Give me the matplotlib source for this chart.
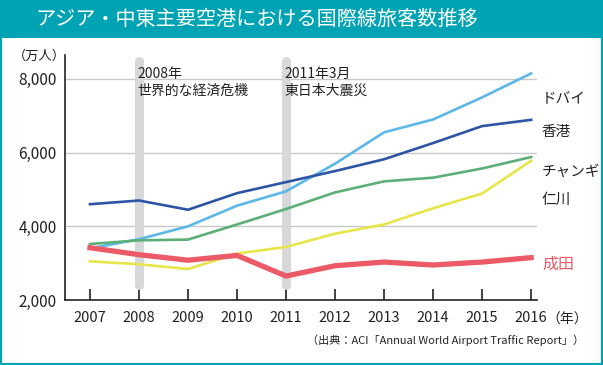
import matplotlib
matplotlib.use("Agg")
import matplotlib.pyplot as plt
from matplotlib.patches import Rectangle

plt.rcParams['font.family'] = ['Noto Sans CJK JP', 'DejaVu Sans']

years = [2007, 2008, 2009, 2010, 2011, 2012, 2013, 2014, 2015, 2016]
dubai = [3400, 3650, 4000, 4560, 4950, 5700, 6550, 6900, 7500, 8150]
hongkong = [4600, 4700, 4450, 4900, 5200, 5500, 5820, 6260, 6720, 6890]
changi = [3520, 3620, 3640, 4050, 4470, 4920, 5220, 5320, 5570, 5880]
incheon = [3050, 2970, 2840, 3260, 3440, 3800, 4050, 4490, 4890, 5780]
narita = [3420, 3230, 3080, 3210, 2650, 2930, 3030, 2950, 3030, 3150]

series_names = ['ドバイ', '香港', 'チャンギ', '仁川', '成田']
event_years = [2008, 2011]
event_labels = ['2008年\n世界的な経済危機', '2011年3月\n東日本大震災']
yticks = [2000, 4000, 6000, 8000]

teal = '#00A3B4'
colors = ['#5BB8E8', '#2E55A5', '#5DAF78', '#E6E64A', '#EB5A66']
widths = [1.9, 1.9, 1.9, 1.9, 3.8]
label_y = [7450, 6560, 5480, 4720, 2970]

fig = plt.figure(figsize=(6.03, 3.65), dpi=100)
# frame and title bar
fig.patches.append(Rectangle((0, 0), 1, 1, transform=fig.transFigure,
                             facecolor='white', edgecolor=teal, linewidth=3, zorder=-10))
fig.patches.append(Rectangle((0, 1 - 38 / 365), 1, 38 / 365, transform=fig.transFigure,
                             facecolor=teal, edgecolor='none', zorder=-9))
fig.text(257 / 603, 1 - 19 / 365, 'アジア・中東主要空港における国際線旅客数推移',
         color='white', fontsize=14.5, ha='center', va='center')

ax = fig.add_axes([65 / 603, 65 / 365, 472 / 603, 245 / 365])
ax.set_facecolor('none')
ax.set_xlim(2006.49, 2016.12)
ax.set_ylim(2000, 8650)

for v in yticks[1:]:
    ax.axhline(v, color='#c8c8c8', linewidth=1, zorder=1)

for yr in event_years:
    ax.plot([yr, yr], [2420, 8500], color='#d6d8d9', linewidth=6.5,
            solid_capstyle='round', zorder=2)

data = [dubai, hongkong, changi, incheon, narita]
for vals, c, w in zip(data, colors, widths):
    ax.plot(years, vals, color=c, linewidth=w, zorder=3, solid_joinstyle='round')

for name, c, ly in zip(series_names, colors, label_y):
    ax.text(2016.22, ly, name, color=c if name == '成田' else '#222222',
            fontsize=10.5 if name != '成田' else 11.5, va='center', ha='left', clip_on=False)

for yr, lab in zip(event_years, event_labels):
    ax.text(yr - 0.04, 8330, lab, fontsize=10, va='top', ha='left',
            color='#222222', linespacing=1.25, zorder=4)

for s in ['top', 'right']:
    ax.spines[s].set_visible(False)
for s in ['left', 'bottom']:
    ax.spines[s].set_color('#222222')
    ax.spines[s].set_linewidth(1.2)

ax.set_xticks(years)
ax.set_xticklabels([str(y) for y in years], fontsize=10.5, color='#222222')
ax.tick_params(axis='x', direction='in', length=8, width=1.2, color='#222222', pad=8)
ax.set_yticks(yticks)
ax.set_yticklabels([f'{v:,}' for v in yticks], fontsize=11, color='#222222')
ax.tick_params(axis='y', length=0, pad=6)

fig.text(13 / 603, 1 - 56 / 365, '（万人）', fontsize=9.5, va='center', ha='left', color='#222222')
fig.text(546 / 603, 1 - 320 / 365, '（年）', fontsize=10, va='center', ha='left', color='#222222')
fig.text(584 / 603, 1 - 340 / 365, '（出典：ACI「Annual World Airport Traffic Report」）',
         fontsize=8, va='center', ha='right', color='#222222')

fig.savefig('out.png', dpi=100)
